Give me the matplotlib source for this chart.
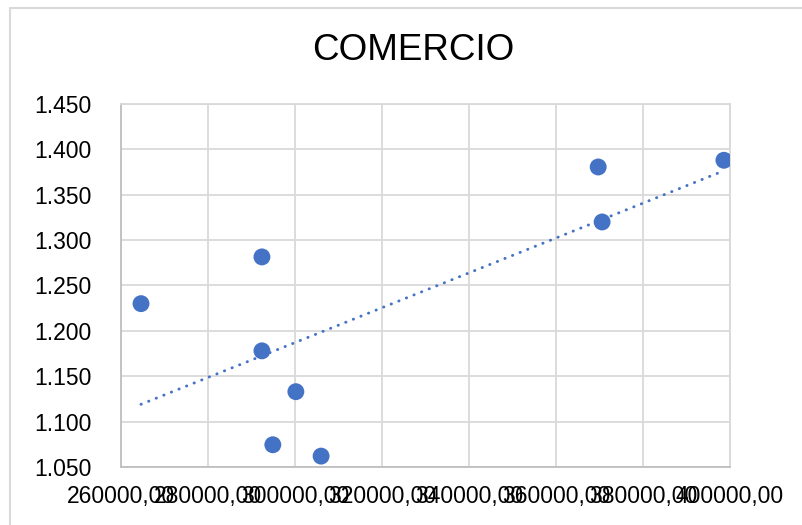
import numpy as np
import matplotlib
matplotlib.use("Agg")
import matplotlib.pyplot as plt
from matplotlib.lines import Line2D

plt.rcParams['font.family'] = ['Liberation Sans', 'DejaVu Sans']

# Data
x_vals = [264600, 292400, 292400, 300200, 294900, 306000, 369700, 370600, 398600]
y_vals = [1.230, 1.2815, 1.178, 1.133, 1.0745, 1.062, 1.3806, 1.320, 1.388]
x_ticks = [260000, 280000, 300000, 320000, 340000, 360000, 380000, 400000]
x_tick_labels = ["260000,00", "280000,00", "300000,00", "320000,00",
                 "340000,00", "360000,00", "380000,00", "400000,00"]
y_ticks = [1.050, 1.100, 1.150, 1.200, 1.250, 1.300, 1.350, 1.400, 1.450]
y_tick_labels = ["1.050", "1.100", "1.150", "1.200", "1.250",
                 "1.300", "1.350", "1.400", "1.450"]
title = "COMERCIO"

W, H = 802, 525
fig = plt.figure(figsize=(W / 100, H / 100), dpi=100)
ax = fig.add_axes([121 / W, 1 - 467 / H, (730 - 121) / W, (467 - 104) / H])

blue = "#4472C4"
grid_c = "#D9D9D9"

# trendline
xa = np.array(x_vals, dtype=float)
ya = np.array(y_vals, dtype=float)
m, b = np.polyfit(xa, ya, 1)
xt = np.array([xa.min(), xa.max()])
ax.plot(xt, m * xt + b, color=blue, lw=2.1, linestyle=(0, (0.1, 2.7)),
        dash_capstyle='round', zorder=2)

ax.scatter(x_vals, y_vals, s=148, color=blue, edgecolors='none', zorder=3)

ax.set_xlim(x_ticks[0], x_ticks[-1])
ax.set_ylim(y_ticks[0], y_ticks[-1])
ax.set_xticks(x_ticks)
ax.set_xticklabels(x_tick_labels)
ax.set_yticks(y_ticks)
ax.set_yticklabels(y_tick_labels)
ax.grid(True, color=grid_c, lw=1.3, zorder=0)
ax.set_axisbelow(True)
for s in ax.spines.values():
    s.set_color(grid_c)
    s.set_linewidth(1.3)
ax.spines['left'].set_color("#BFBFBF")
ax.spines['bottom'].set_color("#BFBFBF")
ax.tick_params(axis='both', length=0, colors='#000000')
ax.tick_params(axis='y', labelsize=16.5, pad=21)
ax.tick_params(axis='x', labelsize=16.5, pad=13)

fig.text(413 / W, 1 - 50 / H, title, fontsize=26.5, ha='center', va='center')

# chart area border (partial, as in crop)
fig.add_artist(Line2D([9.5 / W, 9.5 / W, 1.0], [0.0, 1 - 7.5 / H, 1 - 7.5 / H],
                      transform=fig.transFigure, color=grid_c, lw=1.5))

fig.savefig("out.png", dpi=100)
